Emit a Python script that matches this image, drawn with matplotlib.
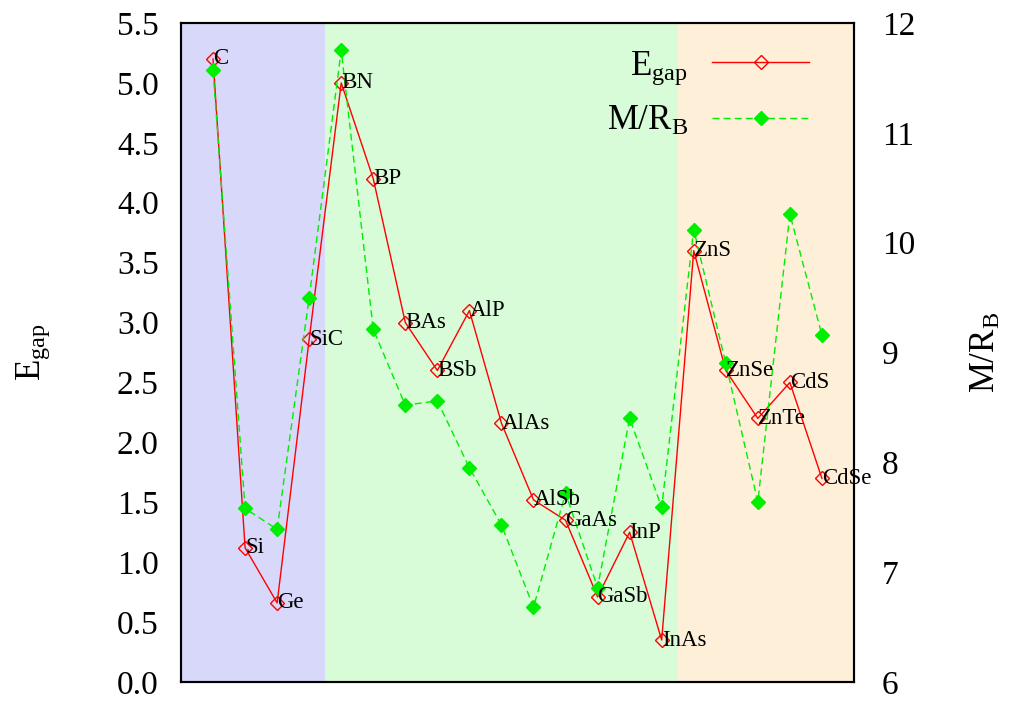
import matplotlib
matplotlib.use("Agg")
import matplotlib.pyplot as plt

plt.rcParams['font.family'] = ['Liberation Serif', 'DejaVu Serif']
plt.rcParams['mathtext.fontset'] = 'custom'
plt.rcParams['mathtext.rm'] = 'Liberation Serif'
plt.rcParams['mathtext.it'] = 'Liberation Serif:italic'

materials = ['C', 'Si', 'Ge', 'SiC', 'BN', 'BP', 'BAs', 'BSb', 'AlP', 'AlAs',
             'AlSb', 'GaAs', 'GaSb', 'InP', 'InAs', 'ZnS', 'ZnSe', 'ZnTe', 'CdS', 'CdSe']
egap = [5.2, 1.12, 0.66, 2.86, 5.0, 4.2, 3.0, 2.6, 3.1, 2.16,
        1.52, 1.35, 0.71, 1.25, 0.35, 3.6, 2.6, 2.2, 2.5, 1.7]
m_rb = [11.57, 7.58, 7.39, 9.5, 11.75, 9.21, 8.52, 8.56, 7.95, 7.43,
        6.68, 7.72, 6.86, 8.40, 7.59, 10.12, 8.90, 7.64, 10.26, 9.16]

# group boundaries (IV | III-V | II-VI) and their colours
group_edges = [0, 4.5, 15.5, 21]
group_colours = ['#d8d8fa', '#d8fbd8', '#feefd9']

left_ticks = [0.0, 0.5, 1.0, 1.5, 2.0, 2.5, 3.0, 3.5, 4.0, 4.5, 5.0, 5.5]
right_ticks = [6, 7, 8, 9, 10, 11, 12]

fig = plt.figure(figsize=(10.1, 7.02), dpi=100)
ax1 = fig.add_axes([0.1792, 0.0285, 0.6663, 0.9387])
ax2 = ax1.twinx()

xs = list(range(1, len(materials) + 1))

for i in range(len(group_colours)):
    ax1.axvspan(group_edges[i], group_edges[i + 1], color=group_colours[i], lw=0, zorder=0)

l1, = ax1.plot(xs, egap, color='red', lw=1, marker='D', ms=7.5, mfc='none',
               mec='red', mew=1, label=r'E$_{\rm gap}$', zorder=3)
l2, = ax2.plot(xs, m_rb, color='#00ee00', lw=1, ls=(0, (5, 3)), marker='D', ms=7.5,
               mfc='#00ee00', mec='#00ee00', label=r'M/R$_{\rm B}$', zorder=3)

for x, y, name in zip(xs, egap, materials):
    ax2.text(x, y, name, transform=ax1.transData, fontsize=16.5,
             ha='left', va='center', zorder=5)

ax1.set_xlim(0, 21)
ax1.set_ylim(0, 5.5)
ax2.set_ylim(6, 12)
ax1.set_xticks([])
ax1.set_yticks(left_ticks)
ax1.set_yticklabels([f'{t:.1f}' for t in left_ticks])
ax2.set_yticks(right_ticks)
ax1.tick_params(axis='y', length=0, labelsize=24, pad=16)
ax2.tick_params(axis='y', length=0, labelsize=24, pad=20)

for ax in (ax1, ax2):
    for s in ax.spines.values():
        s.set_linewidth(1.5)
        s.set_zorder(10)

ax1.set_ylabel(r'E$_{\rm gap}$', fontsize=25, va='center')
ax1.yaxis.set_label_coords(-0.219, 0.5)
ax2.set_ylabel(r'M/R$_{\rm B}$', fontsize=25, va='center')
ax2.yaxis.set_label_coords(1.197, 0.5)

leg = ax2.legend(handles=[l1, l2], loc='upper right', frameon=False,
                 markerfirst=False, fontsize=25, handlelength=2.8,
                 handletextpad=0.7, labelspacing=0.54,
                 bbox_to_anchor=(0.98, 1.008))

fig.savefig('out.png', dpi=100)
